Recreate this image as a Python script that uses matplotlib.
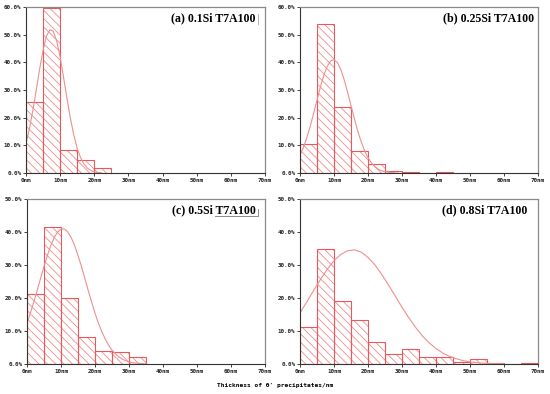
import numpy as np
import matplotlib
matplotlib.use('Agg')
import matplotlib.pyplot as plt

# bin edges (nm) and percentage of precipitates in each 5 nm bin
bin_left = [0, 5, 10, 15, 20, 25, 30, 35, 40, 45, 50, 55, 60, 65]

pct_a = [25.8, 59.6, 8.4, 4.8, 1.8]
pct_b = [10.4, 54.0, 24.0, 7.8, 3.2, 0.8, 0.4, 0.0, 0.4]
pct_c = [21.1, 41.4, 19.9, 8.2, 4.0, 3.6, 2.0]
pct_d = [11.1, 34.7, 19.1, 13.3, 6.6, 3.1, 4.4, 2.0, 2.0, 0.5, 1.5, 0.3, 0.1, 0.4]

# fitted distribution curves
fit_x_a = list(range(0, 23))
fit_y_a = [10.7, 16.0, 22.6, 30.0, 37.6, 44.4, 49.5, 51.8, 51.2, 47.7, 41.9, 34.6,
           27.0, 19.8, 13.7, 8.9, 5.5, 3.2, 1.7, 0.9, 0.4, 0.2, 0.1]
fit_x_b = list(range(0, 29))
fit_y_b = [6.5, 9.2, 12.7, 16.9, 21.5, 26.3, 31.1, 35.3, 38.5, 40.5, 41.0, 39.9,
           37.4, 33.7, 29.2, 24.4, 19.6, 15.1, 11.3, 8.0, 5.5, 3.7, 2.3, 1.4,
           0.8, 0.5, 0.3, 0.15, 0.08]
fit_x_c = list(range(0, 36))
fit_y_c = [12.4, 15.4, 18.8, 22.3, 26.0, 29.6, 32.9, 35.9, 38.3, 40.0, 40.9, 40.9,
           40.0, 38.3, 35.9, 32.9, 29.6, 26.0, 22.3, 18.8, 15.4, 12.4, 9.8, 7.6,
           5.7, 4.2, 3.1, 2.2, 1.5, 1.0, 0.7, 0.4, 0.3, 0.2, 0.1, 0.05]
fit_x_d = list(range(0, 62, 2))
fit_y_d = [15.5, 18.8, 22.3, 25.6, 28.7, 31.3, 33.2, 34.3, 34.6, 33.9, 32.3, 30.1,
           27.2, 24.0, 20.6, 17.2, 14.0, 11.1, 8.5, 6.4, 4.7, 3.3, 2.3, 1.6,
           1.0, 0.65, 0.4, 0.25, 0.15, 0.1, 0.05]

titles = ["(a) 0.1Si T7A100", "(b) 0.25Si T7A100", "(c) 0.5Si T7A100", "(d) 0.8Si T7A100"]
ymax = [60, 60, 50, 50]
x_ticks = [0, 10, 20, 30, 40, 50, 60, 70]
x_ticklabels = ["0nm", "10nm", "20nm", "30nm", "40nm", "50nm", "60nm", "70nm"]

panels = [
    (pct_a, fit_x_a, fit_y_a),
    (pct_b, fit_x_b, fit_y_b),
    (pct_c, fit_x_c, fit_y_c),
    (pct_d, fit_x_d, fit_y_d),
]

W, H = 550, 394
boxes = [(26, 7, 265, 173), (300, 7, 538, 173), (27, 199, 265, 364), (300, 199, 538, 364)]

plt.rcParams['hatch.linewidth'] = 0.6
fig = plt.figure(figsize=(5.5, 3.94), dpi=100)

edge_col = '#e65a5c'
hatch_col = '#f08c8c'
tick_font = dict(family='DejaVu Sans Mono', fontsize=4.2, fontweight='bold')

for i, (pct, fx, fy) in enumerate(panels):
    x0, y0, x1, y1 = boxes[i]
    ax = fig.add_axes([x0 / W, 1 - y1 / H, (x1 - x0) / W, (y1 - y0) / H])
    lefts = bin_left[:len(pct)]
    # hatch layer then outline layer
    ax.bar(lefts, pct, width=5, align='edge', facecolor='none',
           edgecolor=hatch_col, hatch='\\\\\\\\', linewidth=0)
    ax.bar(lefts, pct, width=5, align='edge', facecolor='none',
           edgecolor=edge_col, linewidth=0.8)
    ax.plot(fx, fy, color='#ef8f8f', lw=0.8)

    ax.set_xlim(0, 70)
    ax.set_ylim(0, ymax[i])
    ax.set_xticks(x_ticks)
    ax.set_xticklabels(x_ticklabels, **tick_font)
    yt = list(range(0, ymax[i] + 1, 10))
    ax.set_yticks(yt)
    ax.set_yticklabels(["%d.0%%" % v for v in yt], **tick_font)
    ax.tick_params(length=2, width=0.6, pad=1.5, colors='#222222')

    for s in ['left', 'bottom']:
        ax.spines[s].set_color('#333333')
        ax.spines[s].set_linewidth(0.8)
    for s in ['top', 'right']:
        ax.spines[s].set_color('#8a8a8a')
        ax.spines[s].set_linewidth(0.9)

    tx = 0.96 if i in (0, 2) else 0.985
    if i == 3:
        tx = 0.955
    ax.text(tx, 0.93, titles[i], transform=ax.transAxes, ha='right', va='center',
            family='Liberation Serif', fontweight='bold', fontsize=8.6)

    # leftover legend frame pieces
    if i == 0:
        ax.plot([0.97, 0.97], [0.90, 0.96], transform=ax.transAxes, color='#aaaaaa', lw=0.6)
    if i == 2:
        ax.plot([0.79, 0.97, 0.97], [0.895, 0.895, 0.94], transform=ax.transAxes,
                color='#777777', lw=0.6)

fig.text(0.5, 1 - 385 / H, "Thickness of \u03b8' precipitates/nm", ha='center', va='center',
         family='DejaVu Sans Mono', fontweight='bold', fontsize=4.5)

fig.savefig('out.png', dpi=100)
